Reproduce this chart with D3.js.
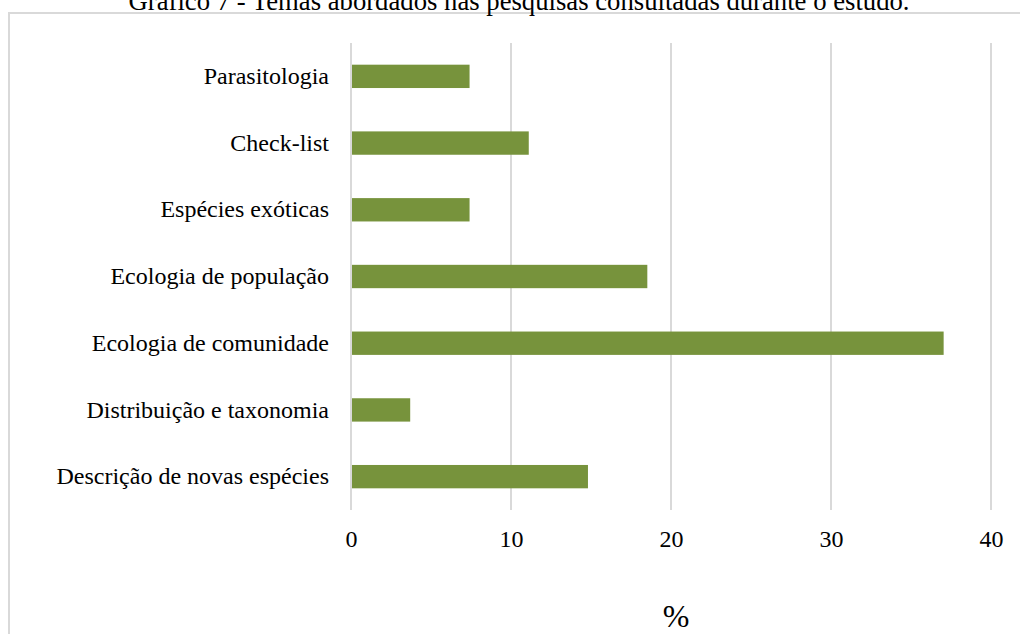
<!DOCTYPE html>
<html><head><meta charset="utf-8">
<script src="https://cdn.jsdelivr.net/npm/d3@7"></script>
<style>body{margin:0;background:#fff}svg{display:block}</style>
</head><body>
<svg id="c" width="1020" height="634"></svg>
<script>
const title = "Gráfico 7 - Temas abordados nas pesquisas consultadas durante o estudo.";
const categories = ["Parasitologia","Check-list","Espécies exóticas","Ecologia de população","Ecologia de comunidade","Distribuição e taxonomia","Descrição de novas espécies"];
const values = [7.41, 11.11, 7.41, 18.52, 37.04, 3.70, 14.81];
const xTicks = [0,10,20,30,40];
const xLabel = "%";

const svg = d3.select("#c");
const font = "'Liberation Serif','Times New Roman',serif";
// outer border
svg.append("rect").attr("x",9).attr("y",13).attr("width",1030).attr("height",640)
  .attr("fill","none").attr("stroke","#d9d9d9").attr("stroke-width",2);
svg.append("text").attr("x",519).attr("y",10).attr("text-anchor","middle")
  .attr("font-family",font).attr("font-size",26.7).attr("fill","#000").text(title);

const x = d3.scaleLinear().domain([0,40]).range([351,991]);
const y = d3.scaleBand().domain(categories).range([43,510]).paddingInner(0.65).paddingOuter(0.325);

svg.append("g").selectAll("line").data(xTicks).join("line")
  .attr("x1",d=>x(d)).attr("x2",d=>x(d)).attr("y1",43).attr("y2",510)
  .attr("stroke","#d9d9d9").attr("stroke-width",2);

svg.append("g").selectAll("rect").data(values).join("rect")
  .attr("x",x(0)+1).attr("y",(d,i)=>y(categories[i]))
  .attr("width",d=>x(d)-x(0)-1).attr("height",y.bandwidth())
  .attr("fill","#77933c");

const yAxis = svg.append("g").attr("transform","translate(351,0)")
  .call(d3.axisLeft(y).tickSize(0).tickPadding(22));
yAxis.select(".domain").remove();
yAxis.selectAll("text").attr("font-family",font).attr("font-size",24).attr("fill","#000");

const xAxis = svg.append("g").attr("transform","translate(0,510)")
  .call(d3.axisBottom(x).tickValues(xTicks).tickSize(0).tickPadding(20));
xAxis.select(".domain").remove();
xAxis.selectAll("text").attr("font-family",font).attr("font-size",24).attr("fill","#000");

svg.append("text").attr("x",676).attr("y",627).attr("text-anchor","middle")
  .attr("font-family",font).attr("font-size",32).attr("fill","#000").text(xLabel);
</script>
</body></html>
